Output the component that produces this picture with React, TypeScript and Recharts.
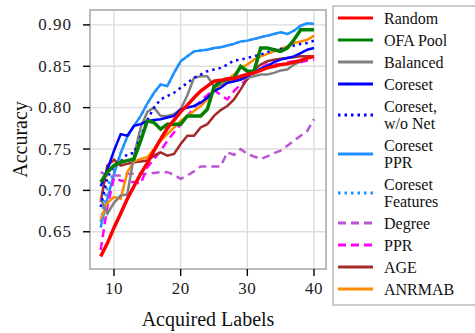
import React from "react";
import {
  CartesianGrid,
  Line,
  LineChart,
  ReferenceArea,
  XAxis,
  YAxis,
} from "recharts";

const acquiredLabels = [
  8, 9, 10, 11, 12, 13, 14, 15, 16, 17, 18, 19, 20, 21, 22, 23, 24, 25, 26, 27,
  28, 29, 30, 31, 32, 33, 34, 35, 36, 37, 38, 39, 40,
];

const random = [
  0.62, 0.636, 0.655, 0.672, 0.69, 0.705, 0.72, 0.733, 0.748, 0.762, 0.775,
  0.785, 0.795, 0.803, 0.812, 0.82, 0.826, 0.832, 0.833, 0.835, 0.835, 0.838,
  0.84, 0.842, 0.845, 0.848, 0.85, 0.852, 0.853, 0.855, 0.857, 0.86, 0.862,
];
const ofaPool = [
  0.71, 0.722, 0.73, 0.734, 0.736, 0.738, 0.76, 0.784, 0.782, 0.774, 0.78,
  0.78, 0.78, 0.79, 0.79, 0.79, 0.798, 0.825, 0.832, 0.834, 0.836, 0.85, 0.844,
  0.844, 0.872, 0.872, 0.87, 0.868, 0.872, 0.882, 0.894, 0.894, 0.894,
];
const balanced = [
  0.69, 0.672, 0.685, 0.694, 0.695, 0.742, 0.776, 0.795, 0.8, 0.79, 0.79,
  0.792, 0.798, 0.815, 0.836, 0.838, 0.838, 0.826, 0.828, 0.83, 0.832, 0.834,
  0.836, 0.838, 0.84, 0.84, 0.842, 0.845, 0.846, 0.852, 0.856, 0.86, 0.862,
];
const coreset = [
  0.705, 0.725, 0.748, 0.768, 0.766, 0.778, 0.78, 0.784, 0.785, 0.786, 0.788,
  0.79, 0.798, 0.8, 0.802, 0.806, 0.812, 0.82, 0.824, 0.83, 0.832, 0.834,
  0.838, 0.843, 0.847, 0.85, 0.855, 0.858, 0.86, 0.862, 0.866, 0.87, 0.872,
];
const coresetNoNet = [
  0.68, 0.715, 0.73, 0.735, 0.744, 0.745, 0.765, 0.785, 0.8, 0.81, 0.814,
  0.818, 0.824, 0.83, 0.836, 0.84, 0.844, 0.846, 0.848, 0.852, 0.857, 0.858,
  0.86, 0.862, 0.864, 0.867, 0.87, 0.871, 0.873, 0.875, 0.877, 0.878, 0.881,
];
const coresetPpr = [
  0.655, 0.69, 0.72, 0.745, 0.765, 0.778, 0.79, 0.805, 0.818, 0.828, 0.826,
  0.842, 0.856, 0.862, 0.868, 0.869, 0.87, 0.872, 0.873, 0.875, 0.877, 0.88,
  0.881, 0.883, 0.885, 0.887, 0.889, 0.891, 0.889, 0.893, 0.899, 0.902, 0.901,
];
// mostly hidden under Coreset PPR in the picture
const coresetFeatures = [
  0.662, 0.705, 0.722, 0.745, 0.765, 0.778, 0.79, 0.805, 0.818, 0.828, 0.826,
  0.842, 0.856, 0.862, 0.868, 0.869, 0.87, 0.872, 0.873, 0.875, 0.877, 0.88,
  0.881, 0.883, 0.885, 0.887, 0.889, 0.891, 0.889, 0.893, 0.899, 0.902, 0.901,
];
const degree = [
  0.722, 0.718, 0.718, 0.718, 0.72, 0.72, 0.72, 0.72, 0.721, 0.722, 0.722,
  0.719, 0.714, 0.718, 0.723, 0.729, 0.729, 0.729, 0.729, 0.746, 0.743, 0.75,
  0.744, 0.741, 0.738, 0.741, 0.745, 0.748, 0.754, 0.76, 0.766, 0.772, 0.786,
];
const ppr = [
  0.628, 0.68, 0.715, 0.712, 0.71, 0.71, 0.708, 0.728, 0.738, 0.748, 0.76,
  0.77, 0.78, 0.79, 0.8, 0.808, 0.815, 0.822, 0.815, 0.81, 0.82, 0.828, 0.834,
  0.842, 0.848, 0.852, 0.852, 0.852, 0.855, 0.856, 0.855, 0.857, 0.858,
];
const age = [
  0.686, 0.73, 0.737, 0.73, 0.732, 0.734, 0.735, 0.736, 0.742, 0.746, 0.742,
  0.744, 0.756, 0.766, 0.766, 0.776, 0.78, 0.79, 0.797, 0.802, 0.81, 0.822,
  0.835, 0.846, 0.852, 0.856, 0.858, 0.859, 0.86, 0.861, 0.862, 0.862, 0.862,
];
const anrmab = [
  0.665, 0.685, 0.692, 0.69, 0.722, 0.735, 0.738, 0.74, 0.75, 0.76, 0.768,
  0.776, 0.784, 0.79, 0.796, 0.802, 0.81, 0.82, 0.828, 0.834, 0.84, 0.848,
  0.852, 0.858, 0.862, 0.865, 0.868, 0.871, 0.874, 0.878, 0.88, 0.882, 0.887,
];

const xTicks = [10, 20, 30, 40];
const yTicks = [0.65, 0.7, 0.75, 0.8, 0.85, 0.9];

type Series = {
  key: string;
  name: string[];
  values: number[];
  color: string;
  width: number;
  dash?: string;
};

// legend order
const series: Series[] = [
  { key: "random", name: ["Random"], values: random, color: "#ff0000", width: 3.5 },
  { key: "ofa", name: ["OFA Pool"], values: ofaPool, color: "#008000", width: 3.5 },
  { key: "balanced", name: ["Balanced"], values: balanced, color: "#808080", width: 2.5 },
  { key: "coreset", name: ["Coreset"], values: coreset, color: "#0000ff", width: 2.5 },
  {
    key: "coresetNoNet",
    name: ["Coreset,", "w/o Net"],
    values: coresetNoNet,
    color: "#0000ff",
    width: 2.5,
    dash: "2.5 4",
  },
  { key: "coresetPpr", name: ["Coreset", "PPR"], values: coresetPpr, color: "#1e90ff", width: 2.5 },
  {
    key: "coresetFeatures",
    name: ["Coreset", "Features"],
    values: coresetFeatures,
    color: "#1e90ff",
    width: 2.5,
    dash: "2.5 4",
  },
  { key: "degree", name: ["Degree"], values: degree, color: "#ba55d3", width: 2.5, dash: "8 5" },
  { key: "ppr", name: ["PPR"], values: ppr, color: "#ff00ff", width: 2.5, dash: "8 5" },
  { key: "age", name: ["AGE"], values: age, color: "#a52a2a", width: 2.5 },
  { key: "anrmab", name: ["ANRMAB"], values: anrmab, color: "#ff8c00", width: 2.5 },
];

// draw order (last one ends up on top)
const drawOrder = [
  "coresetFeatures",
  "coresetPpr",
  "degree",
  "ppr",
  "age",
  "anrmab",
  "balanced",
  "coresetNoNet",
  "coreset",
  "ofa",
  "random",
];

const data = acquiredLabels.map((x, i) => {
  const row: Record<string, number> = { x };
  series.forEach((s) => {
    row[s.key] = s.values[i];
  });
  return row;
});

const font = '"Liberation Serif", "Times New Roman", serif';

function renderXTick(props: any) {
  const { x, y, payload } = props;
  return (
    <text
      x={x}
      y={y}
      dy={12}
      textAnchor="middle"
      style={{ fontFamily: font, fontSize: 17, letterSpacing: 0.5 }}
      fill="#222"
    >
      {payload.value}
    </text>
  );
}

function renderYTick(props: any) {
  const { x, y, payload } = props;
  return (
    <text
      x={x}
      y={y}
      dy={5.5}
      textAnchor="end"
      style={{ fontFamily: font, fontSize: 17, letterSpacing: 1 }}
      fill="#222"
    >
      {Number(payload.value).toFixed(2)}
    </text>
  );
}

function XLabel({ viewBox }: any) {
  return (
    <text
      x={viewBox.x + viewBox.width / 2}
      y={viewBox.y + 57}
      textAnchor="middle"
      style={{ fontFamily: font, fontSize: 20 }}
      fill="#111"
    >
      Acquired Labels
    </text>
  );
}

function YLabel({ viewBox }: any) {
  const cx = viewBox.x + 20;
  const cy = viewBox.y + viewBox.height / 2;
  return (
    <text
      x={cx}
      y={cy}
      transform={`rotate(-90 ${cx} ${cy})`}
      textAnchor="middle"
      dominantBaseline="central"
      style={{ fontFamily: font, fontSize: 20 }}
      fill="#111"
    >
      Accuracy
    </text>
  );
}

function ChartLegend() {
  return (
    <div
      style={{
        position: "absolute",
        left: 332,
        top: 5,
        width: 150,
        height: 297,
        border: "2px solid #cccccc",
        background: "#fff",
        fontFamily: font,
        fontSize: 16,
        color: "#111",
      }}
    >
      {series.map((s) => (
        <div
          key={s.key}
          style={{
            display: "flex",
            alignItems: "center",
            height: s.name.length * 17 + 5,
          }}
        >
          <svg width={35} height={10} style={{ marginLeft: 4, marginRight: 11 }}>
            <line
              x1={0}
              y1={5}
              x2={35}
              y2={5}
              stroke={s.color}
              strokeWidth={3}
              strokeDasharray={s.dash}
            />
          </svg>
          <div style={{ lineHeight: "17px" }}>
            {s.name.map((n) => (
              <div key={n}>{n}</div>
            ))}
          </div>
        </div>
      ))}
    </div>
  );
}

export default function App() {
  return (
    <div
      style={{
        position: "absolute",
        left: 0,
        top: 0,
        width: 475,
        height: 333,
        overflow: "hidden",
        background: "#fff",
        fontFamily: font,
      }}
    >
      <LineChart
        width={475}
        height={333}
        data={data}
        margin={{ top: 10, right: 149, left: 0, bottom: 0 }}
        style={{ fontFamily: font }}
      >
        <CartesianGrid stroke="#dddddd" strokeWidth={1.4} />
        <XAxis
          dataKey="x"
          type="number"
          domain={[6.4, 41.8]}
          ticks={xTicks}
          allowDataOverflow
          height={64}
          stroke="#bbbbbb"
          strokeWidth={2}
          tickLine={{ stroke: "#000", strokeWidth: 1.4 }}
          tickSize={7}
          tickMargin={6}
          tick={renderXTick}
          label={<XLabel />}
        />
        <YAxis
          type="number"
          domain={[0.605, 0.918]}
          ticks={yTicks}
          allowDataOverflow
          width={90}
          stroke="#bbbbbb"
          strokeWidth={2}
          tickLine={{ stroke: "#000", strokeWidth: 1.4 }}
          tickSize={7}
          tickMargin={11}
          tick={renderYTick}
          label={<YLabel />}
        />
        <ReferenceArea
          x1={6.4}
          x2={41.8}
          y1={0.605}
          y2={0.918}
          fill="none"
          stroke="#bbbbbb"
          strokeWidth={2}
        />
        {drawOrder.map((k) => {
          const s = series.find((d) => d.key === k)!;
          return (
            <Line
              key={s.key}
              dataKey={s.key}
              type="linear"
              stroke={s.color}
              strokeWidth={s.width}
              strokeDasharray={s.dash}
              dot={false}
              activeDot={false}
              isAnimationActive={false}
            />
          );
        })}
      </LineChart>
      <ChartLegend />
    </div>
  );
}
